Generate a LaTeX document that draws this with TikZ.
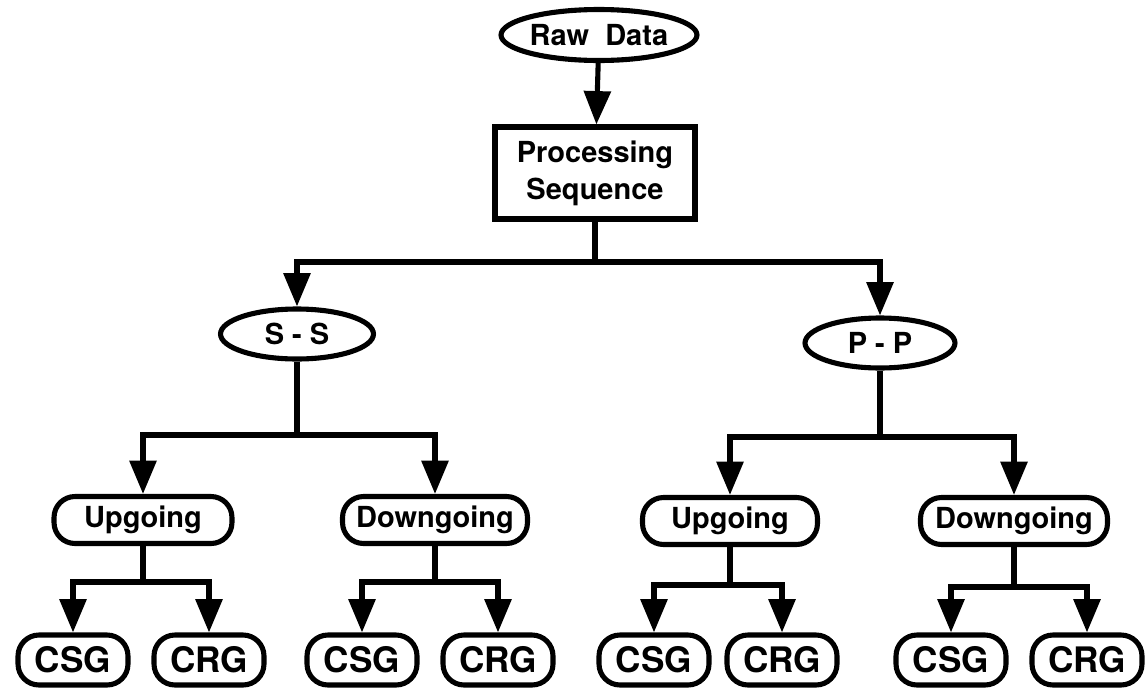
\documentclass[tikz,border=0pt]{standalone}
\usepackage{fontspec}
\setmainfont{TeX Gyre Heros}
\usetikzlibrary{shapes.geometric,arrows.meta}

\begin{document}
\begin{tikzpicture}[x=0.02cm,y=-0.02cm,
        box/.style={draw=black,line width=2.9pt,inner sep=0pt,font=\bfseries\fontsize{16.5}{21}\selectfont},
        oval/.style={box,ellipse},
        pill/.style={box,rounded corners=0.42cm,minimum height=0.94cm},
        leaf/.style={box,rounded corners=0.42cm,minimum width=2.2cm,minimum height=1.0cm,font=\bfseries\fontsize{20}{24}\selectfont},
        link/.style={line width=2.9pt},
        arr/.style={link,-{Triangle[length=19pt,width=15pt]}}]
        \useasboundingbox (0,0) rectangle (1147,690);
        % top of the tree
        \node[oval,minimum width=3.46cm,minimum height=1.02cm] (raw) at (599,35) {Raw\ \ Data};
        \node[box,align=center,minimum width=4cm,minimum height=1.84cm] (proc) at (595,173) {Processing\\Sequence};
        \node[oval,minimum width=3.06cm,minimum height=1cm] (ss) at (297,334) {S - S};
        \node[oval,minimum width=3cm,minimum height=1cm] (pp) at (880,343) {P - P};
        % wave types
        \node[pill,minimum width=3.56cm] (upS) at (143,520) {Upgoing};
        \node[pill,minimum width=3.7cm] (downS) at (435,520) {Downgoing};
        \node[pill,minimum width=3.5cm] (upP) at (730,521) {Upgoing};
        \node[pill,minimum width=3.74cm] (downP) at (1014,521) {Downgoing};
        % gathers
        \node[leaf] (csgUS) at (73,660) {CSG};
        \node[leaf] (crgUS) at (209,660) {CRG};
        \node[leaf] (csgDS) at (362,660) {CSG};
        \node[leaf] (crgDS) at (498,660) {CRG};
        \node[leaf] (csgUP) at (654,660) {CSG};
        \node[leaf] (crgUP) at (782,660) {CRG};
        \node[leaf] (csgDP) at (951,660) {CSG};
        \node[leaf] (crgDP) at (1087,660) {CRG};
        % branch points, straight below their parents
        \coordinate (jProc) at (595,262);
        \coordinate (jS) at (297,435);
        \coordinate (jP) at (880,437);
        \coordinate (jUS) at (143,582);
        \coordinate (jDS) at (435,582);
        \coordinate (jUP) at (730,585);
        \coordinate (jDP) at (1014,587);
        % connectors
        \draw[arr] (raw) -- (proc);
        \draw[link] (proc.south) -- (jProc);
        \draw[arr] (jProc) -| (ss.north);
        \draw[arr] (jProc) -| (pp.north);
        \draw[link] (ss.south) -- (jS);
        \draw[arr] (jS) -| (upS.north);
        \draw[arr] (jS) -| (downS.north);
        \draw[link] (pp.south) -- (jP);
        \draw[arr] (jP) -| (upP.north);
        \draw[arr] (jP) -| (downP.north);
        \foreach \p/\a in {US/upS,DS/downS,UP/upP,DP/downP}{
                \draw[link] (\a.south) -- (j\p);
                \draw[arr] (j\p) -| (csg\p.north);
                \draw[arr] (j\p) -| (crg\p.north);
        }
\end{tikzpicture}
\end{document}
